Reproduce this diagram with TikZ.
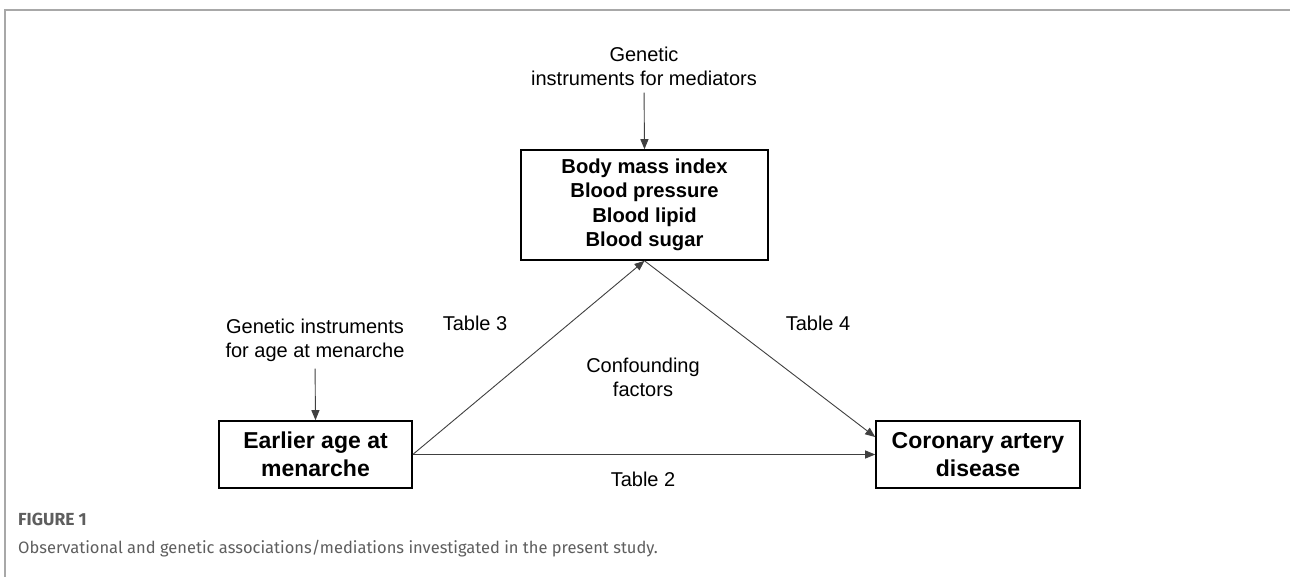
\documentclass[tikz,border=0pt]{standalone}
\usepackage{fontspec}
\setmainfont{Liberation Sans}
\newfontfamily\capfont{Fira Sans}
\usetikzlibrary{arrows.meta,calc}
\definecolor{framegray}{HTML}{A8A8A8}
\definecolor{capgray}{HTML}{5E5E5E}
\definecolor{linegray}{HTML}{404040}
\begin{document}
\begin{tikzpicture}[x=1pt,y=-1pt,
  boxstyle/.style={draw=black,line width=1.6pt,align=center,inner sep=0pt,font=\bfseries},
  midbox/.style={boxstyle,font=\fontsize{20.2}{24.5}\selectfont\bfseries},
  endbox/.style={boxstyle,font=\fontsize{23}{28}\selectfont\bfseries},
  lbl/.style={align=center,inner sep=0pt,font=\fontsize{20}{24}\selectfont},
  arr/.style={draw=linegray,line width=0.9pt,-{Triangle[length=10pt,width=8pt]}}
]
\useasboundingbox (0,0) rectangle (1290,577);
\fill[white] (0,0) rectangle (1290,577);
% frame
\coordinate (fl) at (4,10);
\coordinate (fr) at (1290,10);
\coordinate (fb) at (5,577);
\draw[framegray,line width=2pt] (fl) -- (fr);
\draw[framegray,line width=1.5pt] (5,10) -- (fb);

% nodes
\node[midbox,minimum width=247pt,minimum height=110pt] (topbox) at (644.5,205)
  {Body mass index\\Blood pressure\\Blood lipid\\Blood sugar};
\node[endbox,minimum width=193pt,minimum height=67pt] (leftbox) at (315.5,454.5)
  {Earlier age at\\menarche};
\node[endbox,minimum width=204pt,minimum height=67pt] (rightbox) at (978,454.5)
  {Coronary artery\\disease};

\node[lbl] (topgen) at (644,66) {Genetic\\instruments for mediators};
\node[lbl] (leftgen) at (315,340) {Genetic instruments\\for age at menarche};
\node[lbl] (t3) at (475,323) {Table 3};
\node[lbl] (t4) at (818,323) {Table 4};
\node[lbl] (conf) at (643,377) {Confounding\\factors};
\node[lbl] (t2) at (643,479) {Table 2};

% connectors
\draw[arr,shorten <=7pt] (topgen.south) -- (topbox.north);
\draw[arr,shorten <=7pt] (leftgen.south) -- (leftbox.north);
\draw[arr] (leftbox.east) -- (topbox.south);
\draw[arr] (leftbox.east) -- (rightbox.west);
\draw[arr] (topbox.south) -- ([yshift=17.5pt]rightbox.west);

% caption
\node[anchor=base west,inner sep=0pt,text=capgray,font=\capfont\fontsize{17.5}{20}\selectfont\bfseries] (figlbl) at (18,525) {FIGURE 1};
\node[anchor=base west,inner sep=0pt,text=capgray,font=\capfont\fontsize{16.5}{20}\selectfont] (caption) at (18,553)
  {Observational and genetic associations/mediations investigated in the present study.};
\end{tikzpicture}
\end{document}
